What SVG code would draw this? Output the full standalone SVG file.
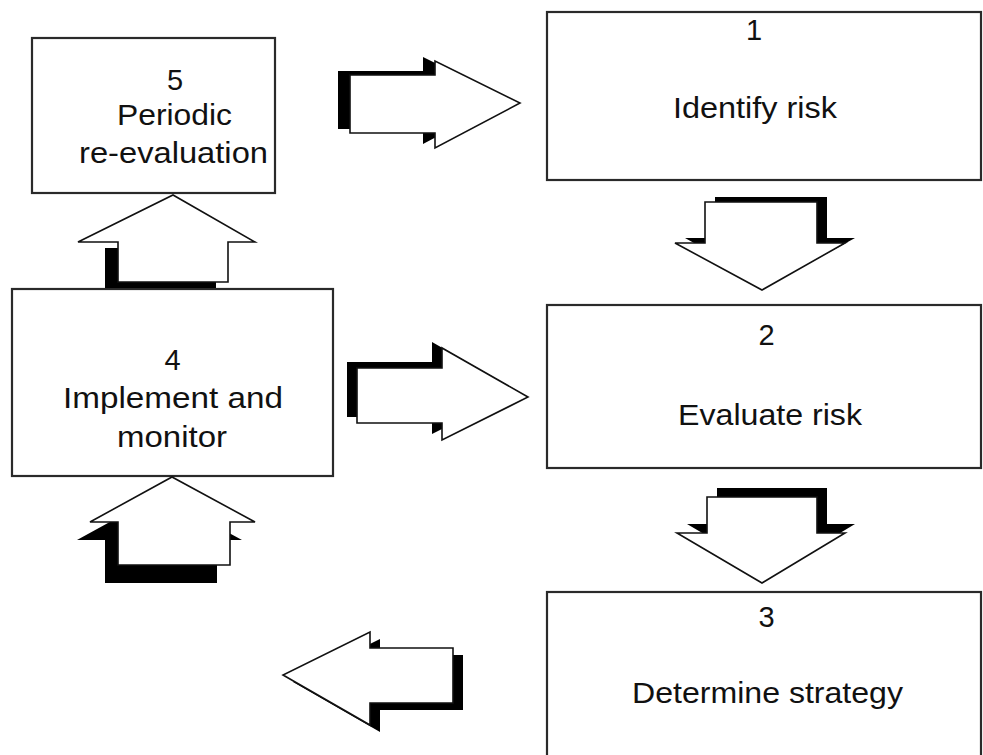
<svg xmlns="http://www.w3.org/2000/svg" width="983" height="755" viewBox="0 0 983 755">
<style>
.box{fill:#fff;stroke:#2a2a2a;stroke-width:2.2}
.arr{fill:#fff;stroke:#111;stroke-width:1.6;stroke-linejoin:miter}
.sh{fill:#000;stroke:none}
text{font-family:"Liberation Sans",Arial,sans-serif;font-size:29px;fill:#111;text-anchor:middle}
</style>
<rect width="983" height="755" fill="#fff"/>
<g id="node5">
<rect class="box" x="32" y="38" width="243" height="155"/>
<text x="175" y="90">5</text>
<text x="174.5" y="125" textLength="115" lengthAdjust="spacingAndGlyphs">Periodic</text>
<text x="173.5" y="163" textLength="189" lengthAdjust="spacingAndGlyphs">re-evaluation</text>
</g>
<g id="node1">
<rect class="box" x="547" y="12" width="434" height="168"/>
<text x="754" y="40">1</text>
<text x="755" y="118" textLength="164" lengthAdjust="spacingAndGlyphs">Identify risk</text>
</g>
<g id="node4">
<rect class="box" x="12" y="289" width="321" height="187"/>
<text x="172.5" y="370">4</text>
<text x="173" y="408" textLength="220" lengthAdjust="spacingAndGlyphs">Implement and</text>
<text x="172" y="447" textLength="110" lengthAdjust="spacingAndGlyphs">monitor</text>
</g>
<g id="node2">
<rect class="box" x="547" y="305" width="434" height="163"/>
<text x="766.5" y="345">2</text>
<text x="770" y="425" textLength="184" lengthAdjust="spacingAndGlyphs">Evaluate risk</text>
</g>
<g id="node3">
<rect class="box" x="547" y="592" width="434" height="170"/>
<text x="766.5" y="627">3</text>
<text x="767.5" y="703" textLength="271" lengthAdjust="spacingAndGlyphs">Determine strategy</text>
</g>
<g id="connectors">
<!-- 5 -> 1 -->
<polygon class="sh" points="338,71 423,71 423,57 508,99 423,144 423,129 338,129" />
<polygon class="arr" points="350,75 435,75 435,61 520,103 435,148 435,133 350,133"/>
<!-- 1 -> 2 -->
<polygon class="sh" points="715,197 827,197 827,238 855,238 770,285 685,238 715,238"/>
<polygon class="arr" points="705,202 817,202 817,243 845,243 762,290 675,243 705,243"/>
<!-- 2 -> 3 -->
<polygon class="sh" points="717,488 827,488 827,524 855,524 772,574 687,524 717,524"/>
<polygon class="arr" points="707,497 817,497 817,533 845,533 762,583 677,533 707,533"/>
<!-- 4 -> 2 -->
<polygon class="sh" points="347,362 432,362 432,342 518,391 432,434 432,417 347,417"/>
<polygon class="arr" points="357,368 442,368 442,348 528,397 442,440 442,423 357,423"/>
<!-- 4 -> 5 -->
<polygon class="sh" points="105,248 216,248 216,288 105,288"/>
<polygon class="arr" points="118,282 118,242 78,242 173,195 255,242 228,242 228,282"/>
<!-- 3 -> 4 (incoming) -->
<polygon class="sh" points="105,583 105,540 77,540 159,495 242,540 217,540 217,583"/>
<polygon class="arr" points="118,565 118,522 90,522 172,477 255,522 230,522 230,565"/>
<!-- 3 -> left -->
<polygon class="sh" points="463,655 380,655 380,639 293,682 380,732 380,710 463,710"/>
<polygon class="arr" points="453,648 370,648 370,632 283,675 370,725 370,703 453,703"/>
</g>
</svg>
